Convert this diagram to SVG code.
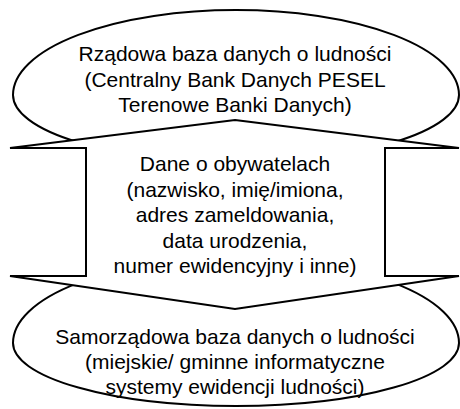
<svg xmlns="http://www.w3.org/2000/svg" width="460" height="409" viewBox="0 0 460 409">
  <style>
    .shape { fill: #ffffff; stroke: #000000; stroke-width: 2; stroke-linejoin: miter; }
    .label { font-family: "Liberation Sans", Arial, Helvetica, sans-serif; font-size: 21px; fill: #000000; text-anchor: middle; }
  </style>
  <rect x="0" y="0" width="460" height="409" fill="#ffffff"/>
  <g id="node-rzadowa">
    <path class="shape" d="M 13 95 A 223 85 0 0 1 459 95 A 223 67 0 0 1 13 95 Z"/>
    <text class="label" x="235" y="61">Rządowa baza danych o ludności</text>
    <text class="label" x="235" y="87">(Centralny Bank Danych PESEL</text>
    <text class="label" x="235" y="112">Terenowe Banki Danych)</text>
  </g>
  <g id="node-samorzadowa">
    <path class="shape" d="M 13 343 A 223 85 0 0 1 459 343 A 223 63 0 0 1 13 343 Z"/>
    <text class="label" x="235" y="344">Samorządowa baza danych o ludności</text>
    <text class="label" x="235" y="369">(miejskie/ gminne informatyczne</text>
    <text class="label" x="235" y="394">systemy ewidencji ludności)</text>
  </g>
  <g id="connectors">
    <g id="node-dane">
      <path class="shape" d="M 235 120 L 459 148 L 385 148 L 385 276 L 459 276 L 235 309 L 10 276 L 86 276 L 86 148 L 10 148 Z"/>
      <text class="label" x="235" y="171">Dane o obywatelach</text>
      <text class="label" x="235" y="197">(nazwisko, imię/imiona,</text>
      <text class="label" x="235" y="222">adres zameldowania,</text>
      <text class="label" x="235" y="248">data urodzenia,</text>
      <text class="label" x="235" y="273">numer ewidencyjny i inne)</text>
    </g>
  </g>
</svg>
